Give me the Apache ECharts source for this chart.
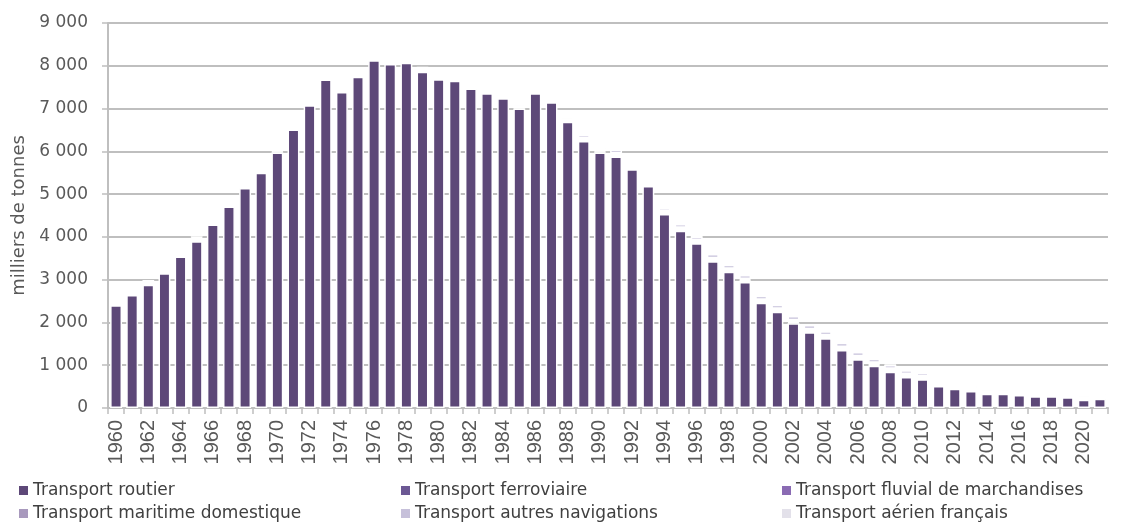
<!DOCTYPE html>
<html>
<head>
<meta charset="utf-8">
<script src="https://cdn.jsdelivr.net/npm/echarts@6/dist/echarts.min.js"></script>
<style>
html,body{margin:0;padding:0;background:#fff;}
#chart{width:1123px;height:525px;}
</style>
</head>
<body>
<div id="chart"></div>
<script>
const years = ['1960','1961','1962','1963','1964','1965','1966','1967','1968','1969',
'1970','1971','1972','1973','1974','1975','1976','1977','1978','1979',
'1980','1981','1982','1983','1984','1985','1986','1987','1988','1989',
'1990','1991','1992','1993','1994','1995','1996','1997','1998','1999',
'2000','2001','2002','2003','2004','2005','2006','2007','2008','2009',
'2010','2011','2012','2013','2014','2015','2016','2017','2018','2019',
'2020','2021'];

const routier = [2400,2640,2880,3150,3540,3900,4290,4710,5140,5500,
5975,6510,7080,7680,7385,7745,8130,8040,8070,7860,
7685,7650,7470,7355,7240,7000,7355,7145,6690,6240,
5970,5880,5580,5190,4535,4145,3850,3430,3185,2945,
2460,2250,1980,1770,1630,1355,1140,990,850,725,
670,515,450,395,335,335,305,275,275,250,
195,218];

const ferroviaire = [22,22,22,22,22,22,22,22,22,22,
22,22,22,22,22,22,22,22,22,22,
22,22,22,22,22,22,22,22,24,24,
24,24,24,24,24,24,24,24,24,24,
24,24,24,24,24,24,24,24,24,24,
24,24,24,24,22,22,22,22,22,22,
22,22];

const fluvial = [20,20,20,20,20,20,20,20,20,20,
20,20,20,20,20,20,20,20,20,20,
20,20,20,20,20,20,20,20,22,22,
22,22,22,22,22,22,22,22,22,22,
22,22,22,22,22,22,22,22,22,22,
22,22,22,22,20,20,20,20,20,20,
20,20];

const maritime = [22,22,22,22,22,22,22,22,22,22,
22,22,22,22,22,22,22,22,22,22,
22,22,22,22,22,22,22,22,24,24,
24,24,24,24,24,24,24,24,24,24,
24,24,24,24,24,24,24,24,24,24,
24,24,24,24,22,22,22,22,22,22,
22,22];

const autresNav = [30,30,30,30,30,30,30,30,30,30,
30,30,30,30,30,30,30,30,30,30,
40,40,40,45,45,45,45,45,55,85,
60,85,60,50,75,85,85,100,95,95,
95,95,100,100,95,100,100,90,85,85,
85,65,65,65,45,45,45,45,45,45,
45,45];

const aerien = [6,6,6,6,6,6,6,6,6,6,
6,6,6,6,6,6,6,6,6,6,
6,6,6,6,6,6,6,6,6,6,
6,6,6,6,6,6,6,6,6,6,
6,6,6,6,6,6,6,6,6,6,
6,6,6,6,6,6,6,6,6,6,
6,6];

const seriesNames = ['Transport routier','Transport ferroviaire','Transport fluvial de marchandises',
  'Transport maritime domestique','Transport autres navigations','Transport aérien français'];
const seriesData = [routier, ferroviaire, fluvial, maritime, autresNav, aerien];
const colors = ['#5d4878','#6c5894','#8a6bb3','#a899bd','#c6c0da','#e3e1ea'];
const yTicks = [0,1000,2000,3000,4000,5000,6000,7000,8000,9000];

const chart = echarts.init(document.getElementById('chart'), null, {renderer:'canvas'});

const legendPos = [[19,482],[401,482],[782,482],[19,505],[401,505],[782,505]];
const legends = seriesNames.map((n,i)=>({
  data:[n], left:legendPos[i][0], top:legendPos[i][1],
  icon:'rect', itemWidth:9, itemHeight:9, itemGap:0, padding:0,
  itemStyle:{borderWidth:0},
  textStyle:{fontFamily:'DejaVu Sans', fontSize:17, color:'#404040'},
  selectedMode:false
}));

chart.setOption({
  animation:false,
  color:colors,
  grid:{left:108, right:15, top:23, bottom:117},
  legend:legends,
  xAxis:{
    type:'category', data:years,
    axisLine:{show:true, lineStyle:{color:'#bfbfbf', width:2}},
    axisTick:{show:true, interval:0, length:6, lineStyle:{color:'#bfbfbf', width:1.5}},
    axisLabel:{show:false}
  },
  yAxis:{
    type:'value', min:yTicks[0], max:yTicks[yTicks.length-1], interval:1000,
    name:'milliers de tonnes', nameLocation:'middle', nameGap:80,
    nameTextStyle:{fontFamily:'DejaVu Sans', fontSize:18, color:'#595959'},
    axisLine:{show:true, lineStyle:{color:'#bfbfbf', width:2}},
    axisTick:{show:true, length:6, lineStyle:{color:'#bfbfbf', width:1.5}},
    splitLine:{show:true, lineStyle:{color:'#bfbfbf', width:2}},
    axisLabel:{margin:8, padding:[0,12,0,0], fontFamily:'DejaVu Sans', fontSize:17, color:'#595959',
      formatter:v=> v===0 ? '0' : (Math.floor(v/1000)+' 000')}
  },
  series:seriesNames.map((n,i)=>({
    name:n, type:'bar', stack:'total', data:seriesData[i],
    barCategoryGap:'26%',
    itemStyle:{color:colors[i], borderColor:'#ffffff', borderWidth:1.5},
    emphasis:{disabled:true}
  }))
});

// Year tick labels (every other year), placed with the category axis scale, rotated to read upward
const axisY = chart.convertToPixel({yAxisIndex:0}, yTicks[0]);
const yearLabels = years.filter((y,i)=> i % 2 === 0).map(y=>({
  type:'text',
  x: chart.convertToPixel({xAxisIndex:0}, y),
  y: axisY + 12,
  rotation: Math.PI/2,
  silent:true,
  style:{text:y, fontFamily:'Liberation Sans', fontSize:20, fill:'#595959', align:'right', verticalAlign:'middle'}
}));
chart.setOption({graphic:{elements:yearLabels}});
</script>
</body>
</html>
